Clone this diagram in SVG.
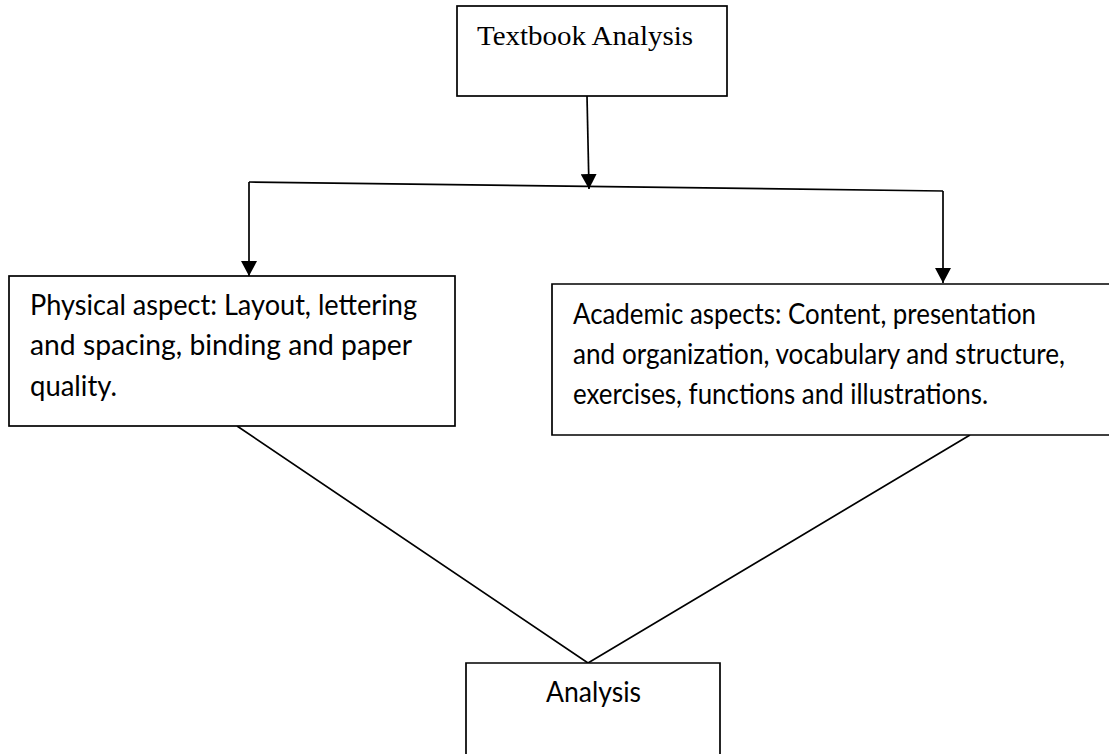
<svg xmlns="http://www.w3.org/2000/svg" width="1109" height="754" viewBox="0 0 1109 754">
<style>
.box{fill:#fff;stroke:#000;stroke-width:1.7}
.ln{fill:none;stroke:#000;stroke-width:1.7}
.t{font-family:Lato,"Liberation Sans",sans-serif;font-size:29px;fill:#000}
.s{font-family:"Liberation Serif","Times New Roman",serif;font-size:28px;fill:#000}
</style>
<defs>
<marker id="ah" markerWidth="16" markerHeight="16" refX="15" refY="8" orient="auto" markerUnits="userSpaceOnUse">
<path d="M0,0 L15,8 L0,16 Z" fill="#000"/>
</marker>
</defs>
<rect width="1109" height="754" fill="#fff"/>
<g id="connectors">
<path class="ln" d="M587,96 L589,189" marker-end="url(#ah)"/>
<path class="ln" d="M249,182 L943,191"/>
<path class="ln" d="M249,182 L249,276" marker-end="url(#ah)"/>
<path class="ln" d="M943,191 L943,283" marker-end="url(#ah)"/>
<path class="ln" d="M237,426 L588,663 L970,435"/>
</g>
<g id="textbook-analysis">
<rect class="box" x="457" y="6" width="270" height="90"/>
<text class="s" x="477" y="45" textLength="216" lengthAdjust="spacingAndGlyphs">Textbook Analysis</text>
</g>
<g id="physical-aspect">
<rect class="box" x="9" y="276" width="446" height="150"/>
<text class="t" x="30" y="315" textLength="387" lengthAdjust="spacingAndGlyphs">Physical aspect: Layout, lettering</text>
<text class="t" x="30" y="355" textLength="382" lengthAdjust="spacingAndGlyphs">and spacing, binding and paper</text>
<text class="t" x="30" y="396" textLength="87" lengthAdjust="spacingAndGlyphs">quality.</text>
</g>
<g id="academic-aspects">
<path class="box" d="M1109,284 H552 V435 H1109"/>
<text class="t" x="573" y="324" textLength="463" lengthAdjust="spacingAndGlyphs">Academic aspects: Content, presentation</text>
<text class="t" x="573" y="364" textLength="492" lengthAdjust="spacingAndGlyphs">and organization, vocabulary and structure,</text>
<text class="t" x="573" y="404" textLength="415" lengthAdjust="spacingAndGlyphs">exercises, functions and illustrations.</text>
</g>
<g id="analysis">
<path class="box" d="M466,754 V663 H720 V754"/>
<text class="t" x="546" y="702" textLength="95" lengthAdjust="spacingAndGlyphs">Analysis</text>
</g>
</svg>
